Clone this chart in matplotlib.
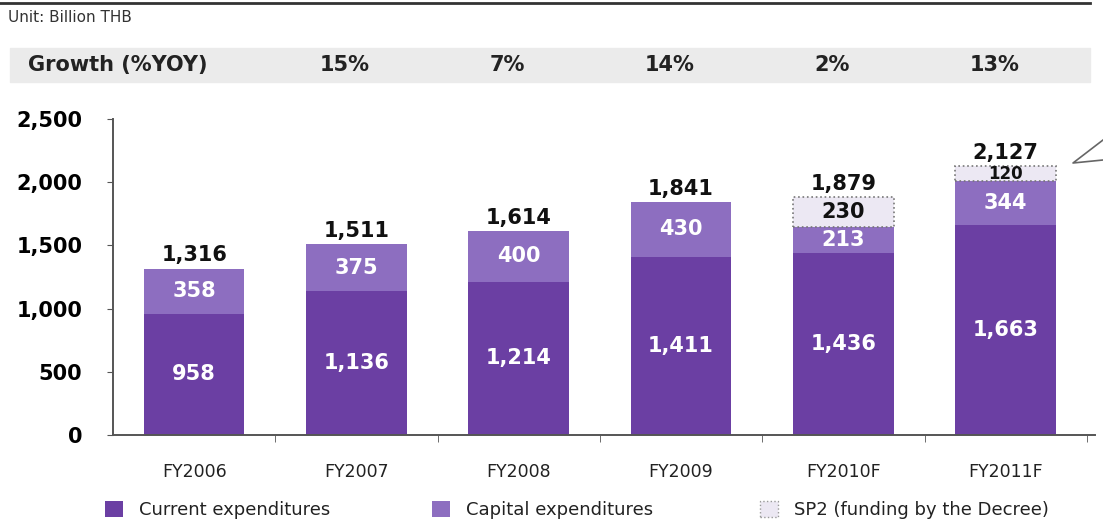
import matplotlib
matplotlib.use("Agg")
import matplotlib.pyplot as plt
from matplotlib.patches import Rectangle, Patch
from matplotlib.lines import Line2D
from matplotlib.transforms import blended_transform_factory

# data (Billion THB)
years    = ["FY2006", "FY2007", "FY2008", "FY2009", "FY2010F", "FY2011F"]
current  = [958, 1136, 1214, 1411, 1436, 1663]
capital  = [358, 375, 400, 430, 213, 344]
sp2      = [0, 0, 0, 0, 230, 120]
totals   = [1316, 1511, 1614, 1841, 1879, 2127]
growth   = ["15%", "7%", "14%", "2%", "13%"]
y_ticks  = [0, 500, 1000, 1500, 2000, 2500]

C_CUR = "#6B3FA3"
C_CAP = "#8D6EC0"
C_SP2 = "#ECE8F3"

W, H = 1103, 525
fig = plt.figure(figsize=(W / 100, H / 100), dpi=100)

# header band goes in first, underneath everything
fig.patches.append(Rectangle((10 / W, 1 - 82 / H), 1080 / W, 34 / H,
                             transform=fig.transFigure, color="#EBEBEB", zorder=-5))

ax = fig.add_axes([113 / W, 90 / H, 982 / W, 316 / H])
ax.patch.set_alpha(0)

x = list(range(len(years)))
bw = 0.62
ax.bar(x, current, bw, color=C_CUR, zorder=2)
ax.bar(x, capital, bw, bottom=current, color=C_CAP, zorder=2)
base2 = [c + k for c, k in zip(current, capital)]
for i, v in enumerate(sp2):
    if v:
        ax.bar(i, v, bw, bottom=base2[i], color=C_SP2, edgecolor="#777777",
               linestyle=":", linewidth=1.2, zorder=2)

lbl = dict(ha="center", va="center", fontweight="bold", family="DejaVu Sans")
for i in x:
    ax.text(i, current[i] / 2, f"{current[i]:,}", color="white", fontsize=15, **lbl)
    ax.text(i, current[i] + capital[i] / 2, f"{capital[i]:,}", color="white", fontsize=15, **lbl)
    if sp2[i]:
        fs = 15 if sp2[i] > 150 else 12
        ax.text(i, base2[i] + sp2[i] / 2, f"{sp2[i]:,}", color="#111111", fontsize=fs, **lbl)
    ax.text(i, base2[i] + sp2[i] + 25, f"{totals[i]:,}", color="#111111", fontsize=15,
            ha="center", va="bottom", fontweight="bold")

ax.set_xlim(-0.5, 5.55)
ax.set_ylim(0, 2500)
ax.set_yticks(y_ticks)
ax.set_yticklabels([f"{v:,}" for v in y_ticks], fontsize=15, fontweight="bold")
ax.set_xticks(x)
ax.set_xticklabels(years, fontsize=12.5, color="#222222")
ax.set_xticks([i + 0.5 for i in x], minor=True)
ax.tick_params(axis="x", which="major", length=0, pad=20)
ax.tick_params(axis="x", which="minor", length=5, color="#555555", direction="out")
ax.tick_params(axis="y", length=4, color="#555555", pad=18)
for s in ["top", "right"]:
    ax.spines[s].set_visible(False)
for s in ["left", "bottom"]:
    ax.spines[s].set_color("#555555")
    ax.spines[s].set_linewidth(1.4)

# header: rule, unit, growth row
fig.add_artist(Line2D([0, 1090 / W], [1 - 3 / H, 1 - 3 / H], color="#333333", lw=2))
fig.text(8 / W, 1 - 18 / H, "Unit: Billion THB", fontsize=11, color="#333333", va="center")
gy = 1 - 65 / H
fig.text(28 / W, gy, "Growth (%YOY)", fontsize=15, fontweight="bold", color="#222222", va="center")
tr = blended_transform_factory(ax.transData, fig.transFigure)
for i, g in enumerate(growth):
    ax.text(i + 1 - 0.07, gy, g, transform=tr, ha="center", va="center",
            fontsize=15, fontweight="bold", color="#222222", clip_on=False, zorder=10)

# cut-off callout at the right edge
fig.add_artist(Line2D([1103 / W, 1073 / W, 1103 / W],
                      [1 - 140 / H, 1 - 163 / H, 1 - 160 / H], color="#666666", lw=1.2))

# legend
items = [
    (Patch(facecolor=C_CUR), "Current expenditures", 105),
    (Patch(facecolor=C_CAP), "Capital expenditures", 432),
    (Patch(facecolor=C_SP2, edgecolor="#999999", linestyle=":"), "SP2 (funding by the Decree)", 760),
]
for h, t, px in items:
    leg = fig.legend([h], [t], loc="center left", bbox_to_anchor=(px / W, 1 - 510 / H),
                     frameon=False, fontsize=13, handlelength=1.0, handleheight=1.0,
                     handletextpad=0.9, borderpad=0, borderaxespad=0)
    for tx in leg.get_texts():
        tx.set_color("#222222")

fig.savefig("out.png", dpi=100)
